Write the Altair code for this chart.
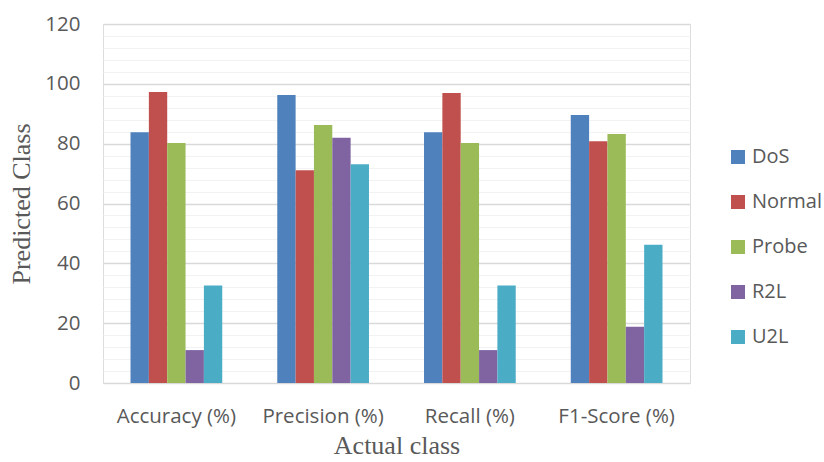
import altair as alt
import pandas as pd

categories = ["Accuracy (%)", "Precision (%)", "Recall (%)", "F1-Score (%)"]
series = ["DoS", "Normal", "Probe", "R2L", "U2L"]
colors = ["#4F81BD", "#C0504D", "#9BBB59", "#8064A2", "#4BACC6"]

dos = [83.8, 96.3, 83.8, 89.6]
normal = [97.3, 71.1, 96.9, 80.8]
probe = [80.2, 86.2, 80.2, 83.2]
r2l = [11.0, 82.0, 11.0, 18.8]
u2l = [32.6, 73.1, 32.6, 46.2]

major_ticks = [0, 20, 40, 60, 80, 100, 120]
minor_ticks = list(range(0, 121, 4))

values = {"DoS": dos, "Normal": normal, "Probe": probe, "R2L": r2l, "U2L": u2l}
rows = []
for s in series:
    for c, v in zip(categories, values[s]):
        rows.append({"cat": c, "series": s, "value": v})
df = pd.DataFrame(rows)

label_font = "Open Sans"
serif = "Liberation Serif"
gray = "#595959"

yscale = alt.Scale(domain=[0, 120], nice=False)
xscale = alt.Scale(paddingInner=0.375, paddingOuter=0.1875)

x_enc = alt.X("cat:N", sort=categories, scale=xscale,
              axis=alt.Axis(title="Actual class", labelAngle=0, ticks=False,
                            domain=False, labelFont=label_font, labelFontSize=20.5,
                            labelColor=gray, labelPadding=23,
                            titleFont=serif, titleFontSize=26, titleFontWeight="normal",
                            titleColor=gray, titlePadding=6))
xoff = alt.XOffset("series:N", sort=series)

base = alt.Chart(df)

minor = base.mark_bar(opacity=0).encode(
    x=x_enc,
    xOffset=xoff,
    y=alt.Y("value:Q", scale=yscale,
            axis=alt.Axis(values=minor_ticks, grid=True, gridColor="#F2F2F2",
                          gridWidth=1, labels=False, ticks=False, domain=False,
                          title=None, orient="left")),
)

bars = base.mark_bar().encode(
    x=x_enc,
    xOffset=xoff,
    y=alt.Y("value:Q", scale=yscale,
            axis=alt.Axis(values=major_ticks, grid=True, gridColor="#D9D9D9",
                          gridWidth=1.5, ticks=False, domain=False,
                          labelFont=label_font, labelFontSize=20.5, labelColor=gray,
                          labelPadding=23, orient="left",
                          title="Predicted Class", titleFont=serif, titleFontSize=26,
                          titleFontWeight="normal", titleColor=gray, titlePadding=10)),
    color=alt.Color("series:N", sort=series,
                    scale=alt.Scale(domain=series, range=colors),
                    legend=alt.Legend(title=None, orient="none", legendX=625, legendY=123,
                                      symbolType="square", symbolSize=196,
                                      symbolStrokeWidth=0, labelFont=label_font,
                                      labelFontSize=20, labelColor=gray,
                                      rowPadding=25, labelOffset=4, padding=0)),
)

chart = alt.layer(minor, bars).resolve_axis(y="independent").properties(
    width=587, height=359,
    autosize=alt.AutoSizeParams(type="none"),
    padding={"left": 103, "top": 24, "right": 134, "bottom": 79},
).configure_view(stroke=None).configure(background="white")

chart.save("out.html", embed_options={"renderer": "svg", "actions": False})
